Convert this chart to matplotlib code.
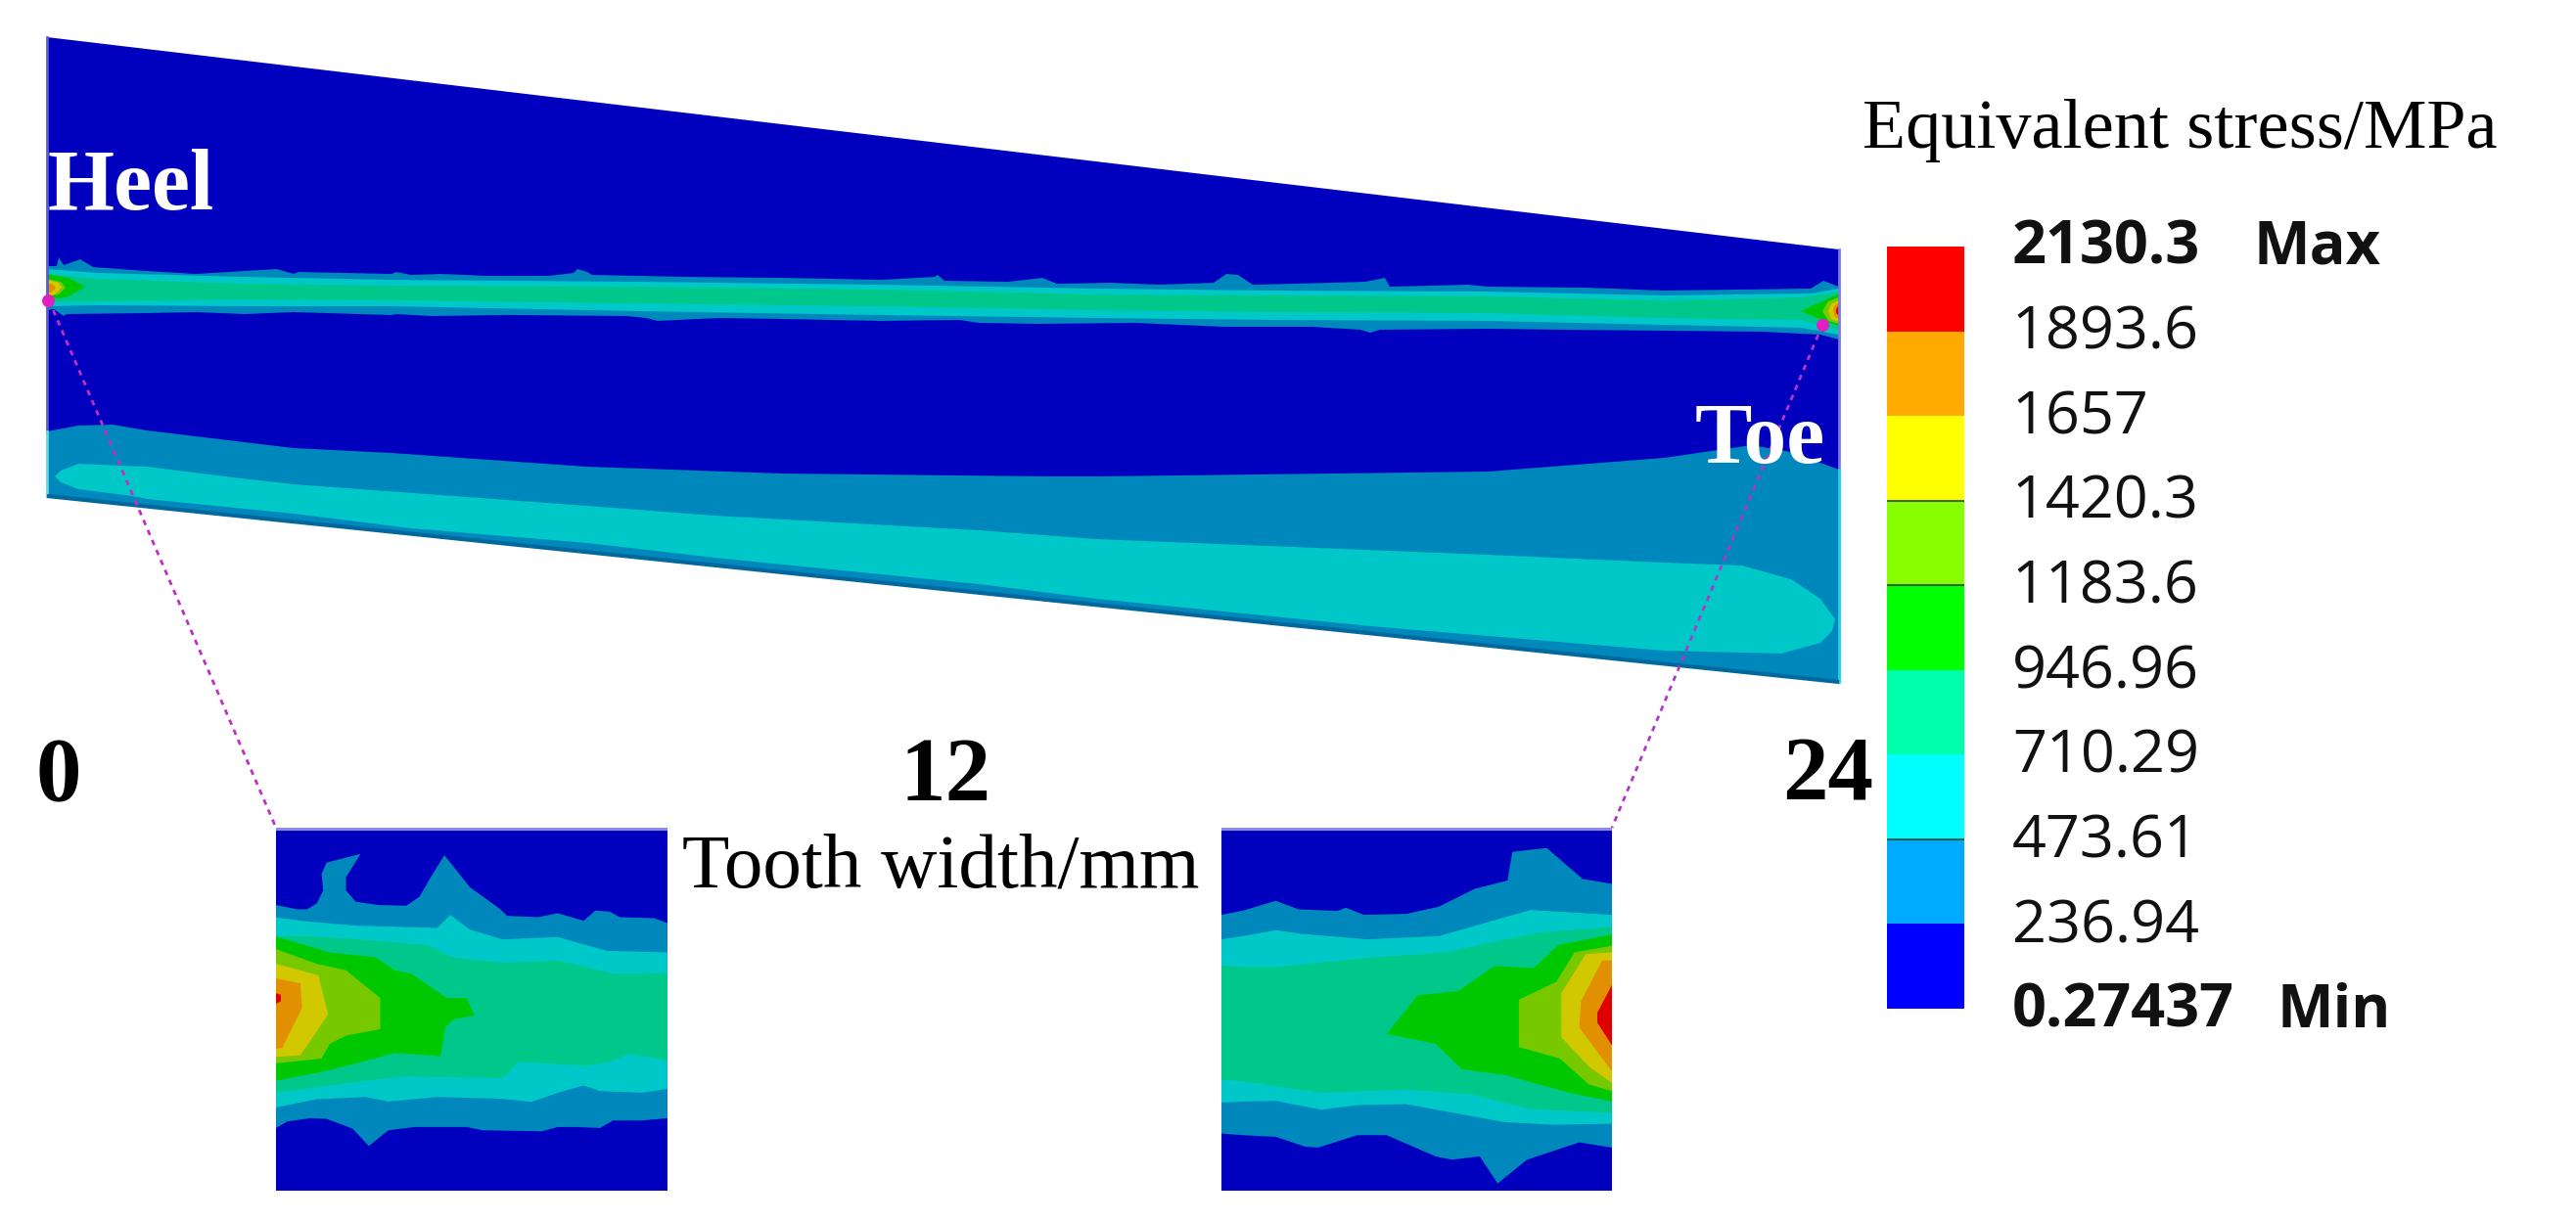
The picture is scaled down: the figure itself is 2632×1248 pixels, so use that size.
import numpy as np
import matplotlib
matplotlib.use("Agg")
import matplotlib.pyplot as plt
from matplotlib.patches import Polygon

W, H = 2632, 1248

# colour legend
legend_labels = ["2130.3", "1893.6", "1657", "1420.3", "1183.6", "946.96", "710.29", "473.61", "236.94", "0.27437"]
legend_colors = ["#ff0000", "#ffaa00", "#ffff00", "#88ff00", "#00ff00", "#00ffaa", "#00ffff", "#00aaff", "#0000ff"]
# same bands as they look on the lit model, low to high
base_color = "#0000be"
band_colors = ["#0087bc", "#00c8c8", "#00c88a", "#00c800", "#78c800", "#d2c800", "#e09000", "#e00000"]

tooth_ticks = ["0", "12", "24"]
tooth_tick_x = [60, 966, 1868]

# tooth outline, picture pixels
tooth_outline = [(48, 38), (1879, 255), (1879, 697), (48, 507)]

# strip along the tooth, (x, y) in picture pixels
strip_1 = [(48, 272), (58, 272), (60, 263), (65, 271), (82, 265), (95, 273), (150, 277), (200, 280), (283, 275),
           (300, 280), (305, 278), (400, 280), (405, 278), (420, 281), (450, 280), (500, 282), (560, 282), (586, 279),
           (590, 275), (600, 278), (605, 281), (700, 283), (800, 284), (900, 286), (955, 283), (958, 281), (965, 287),
           (1030, 288), (1065, 284), (1080, 290), (1135, 289), (1185, 291), (1240, 289), (1253, 280), (1265, 281),
           (1280, 291), (1360, 289), (1395, 288), (1415, 284), (1420, 293), (1500, 291), (1520, 293), (1620, 294),
           (1700, 297), (1850, 295), (1863, 287), (1879, 293),
           (1879, 347), (1860, 342), (1800, 339), (1700, 338), (1600, 337), (1520, 336), (1410, 337), (1400, 340),
           (1390, 337), (1340, 334), (1250, 334), (1160, 330), (1060, 331), (1000, 330), (980, 327), (900, 328),
           (800, 326), (735, 325), (672, 328), (660, 325), (640, 323), (520, 322), (440, 323), (405, 321), (400, 322),
           (300, 319), (250, 321), (200, 319), (150, 320), (68, 321), (65, 323), (55, 316), (48, 317)]
strip_2 = [(48, 275), (100, 279), (250, 283), (400, 286), (650, 288), (900, 291), (1120, 295), (1300, 297), (1520, 298),
           (1700, 302), (1850, 300), (1879, 295),
           (1879, 342), (1840, 335), (1700, 332), (1520, 328), (1300, 327), (1120, 325), (900, 322), (650, 318),
           (400, 313), (250, 313), (100, 312), (48, 313)]
strip_3 = [(48, 280), (100, 285), (250, 290), (400, 292), (650, 293), (900, 296), (1120, 301), (1300, 302), (1520, 303),
           (1700, 307), (1840, 304), (1879, 298),
           (1879, 338), (1840, 327), (1700, 325), (1520, 320), (1300, 319), (1120, 317), (900, 313), (650, 310),
           (400, 307), (250, 306), (100, 308), (48, 309)]
strip_heel = [
    [(48, 280), (70, 284), (87, 293), (70, 303), (48, 307)],
    [(48, 285), (62, 288), (67, 294), (60, 301), (48, 303)],
    [(48, 286), (60, 289), (63, 294), (56, 301), (48, 302)],
    [(48, 289), (54, 291), (57, 294), (53, 299), (48, 300)],
]
strip_toe = [
    [(1879, 300), (1862, 308), (1840, 318), (1862, 327), (1879, 333)],
    [(1879, 304), (1868, 308), (1862, 318), (1868, 328), (1879, 331)],
    [(1879, 307), (1871, 311), (1868, 318), (1871, 326), (1879, 329)],
    [(1879, 309), (1874, 313), (1873, 318), (1875, 324), (1879, 326)],
    [(1879, 312), (1876, 316), (1876, 320), (1879, 323)],
]

# root fillet region
root_band_1 = [(48, 441), (80, 435), (115, 434), (150, 440), (300, 458), (400, 463), (600, 477), (800, 484), (1075, 487),
               (1120, 487), (1520, 482), (1700, 468), (1790, 455), (1830, 462), (1879, 480),
               (1879, 697), (48, 507)]
root_band_2 = [(56, 487), (62, 481), (80, 474), (150, 477), (247, 489), (300, 495), (600, 517), (730, 527), (1000, 542),
               (1120, 551), (1520, 567), (1700, 575), (1780, 578), (1830, 592), (1860, 612), (1875, 633), (1872, 645),
               (1860, 657), (1820, 668), (1700, 665), (1400, 640), (1120, 612), (1000, 597), (730, 570), (600, 555),
               (420, 540), (300, 525), (150, 510), (135, 507), (80, 500), (62, 493)]

# left inset outlines, crop units (3 units = 1 picture pixel)
heel_1 = [(5, 195), (70, 208), (100, 208), (130, 190), (150, 150), (145, 100), (160, 65), (265, 38), (220, 110), (220, 150),
          (250, 185), (320, 195), (405, 197), (445, 170), (480, 110), (522, 42), (600, 140), (690, 205), (715, 228),
          (810, 232), (870, 220), (950, 243), (985, 212), (1030, 215), (1060, 232), (1165, 235), (1207, 250),
          (1207, 848), (1130, 855), (1040, 855), (1000, 878), (930, 875), (870, 875), (820, 888), (640, 885), (590, 875),
          (430, 875), (350, 885), (290, 933), (240, 880), (160, 850), (110, 848), (40, 858), (5, 878)]
heel_2 = [(5, 233), (100, 245), (250, 258), (500, 265), (540, 225), (600, 270), (700, 300), (870, 293), (1020, 335), (1207, 340),
          (1207, 758), (1130, 770), (1000, 765), (950, 748), (870, 770), (790, 798), (690, 788), (500, 783), (350, 797),
          (280, 783), (130, 790), (5, 815)]
heel_3 = [(5, 290), (100, 290), (300, 303), (470, 318), (545, 355), (700, 372), (870, 365), (1040, 405), (1207, 403),
          (1207, 672), (1090, 650), (1030, 675), (960, 688), (750, 675), (700, 725), (400, 720), (230, 740), (5, 770)]
heel_4 = [(5, 292), (170, 340), (310, 355), (370, 395), (420, 405), (500, 460), (530, 480), (590, 480), (615, 533), (550, 545),
          (525, 570), (510, 658), (370, 648), (250, 680), (150, 705), (5, 733)]
heel_5 = [(5, 330), (130, 375), (220, 395), (325, 480), (325, 575), (220, 595), (170, 620), (145, 665), (5, 680)]
heel_6 = [(5, 375), (135, 410), (165, 530), (80, 655), (5, 660)]
heel_7 = [(5, 420), (80, 435), (85, 510), (40, 600), (25, 633), (5, 635)]
heel_8 = [(5, 465), (20, 470), (20, 490), (5, 497)]

# right inset outlines
toe_1 = [(-66, 225), (0, 212), (100, 182), (170, 208), (290, 213), (315, 203), (370, 225), (500, 222), (600, 200), (710, 145),
         (810, 120), (825, 32), (930, 20), (1040, 115), (1130, 130),
         (1130, 938), (1030, 922), (870, 975), (780, 1048), (725, 965), (640, 975), (590, 965), (440, 900), (350, 900),
         (230, 938), (190, 935), (100, 905), (0, 900), (-66, 895)]
toe_2 = [(-66, 300), (0, 290), (100, 272), (180, 283), (380, 300), (600, 290), (880, 210), (1130, 225),
         (1130, 865), (950, 868), (800, 860), (500, 805), (350, 808), (240, 822), (100, 795), (0, 797), (-66, 800)]
toe_3 = [(-66, 380), (0, 385), (100, 385), (400, 355), (620, 340), (900, 280), (1130, 262),
         (1130, 832), (880, 820), (700, 775), (500, 760), (240, 770), (0, 735), (-66, 730)]
toe_4 = [(440, 590), (535, 472), (660, 458), (770, 382), (890, 388), (965, 318), (1130, 285),
         (1130, 797), (1000, 770), (800, 715), (670, 698), (590, 620)]
toe_5 = [(845, 485), (960, 430), (1015, 340), (1130, 320), (1130, 765), (1060, 745), (970, 665), (845, 630)]
toe_6 = [(975, 465), (1050, 345), (1130, 340), (1130, 740), (1060, 690), (975, 600)]
toe_7 = [(1035, 490), (1100, 365), (1130, 365), (1130, 705), (1030, 570)]
toe_8 = [(1085, 525), (1130, 440), (1130, 625), (1085, 555)]

fig = plt.figure(figsize=(W / 100, H / 100), dpi=100, facecolor="white")
ax = fig.add_axes([0, 0, 1, 1])
ax.set_xlim(0, W)
ax.set_ylim(H, 0)
ax.axis("off")


def draw_bands(axis, outlines, colors, clip=None):
    for outline, color in zip(outlines, colors):
        patch = Polygon(outline, closed=True, facecolor=color, edgecolor="none")
        axis.add_patch(patch)
        if clip is not None:
            patch.set_clip_path(clip)


tooth = Polygon(tooth_outline, closed=True, facecolor=base_color, edgecolor="none")
ax.add_patch(tooth)
draw_bands(ax, [root_band_1, root_band_2], band_colors[:2], tooth)
draw_bands(ax, [strip_1, strip_2, strip_3], band_colors[:3], tooth)
draw_bands(ax, strip_heel, band_colors[3:7], tooth)
draw_bands(ax, strip_toe, band_colors[3:], tooth)

# thin edges of the model
ax.plot([48, 48], [38, 441], color="#5a5ad8", lw=2)
ax.plot([48, 48], [441, 507], color="#60d8e8", lw=2)
ax.plot([1879, 1879], [255, 480], color="#7a7ae0", lw=2)
ax.plot([1879, 1879], [480, 697], color="#20d0e8", lw=2)
ax.plot([48, 1879], [507, 697], color="#00689c", lw=3, solid_capstyle="butt")

# leader lines to the insets
ax.plot([50, 282], [307, 846], color="#c030c0", lw=2, ls=(0, (2, 2)))
ax.plot([1862, 1647], [332, 846], color="#b038c8", lw=2, ls=(0, (2, 2)))
ax.scatter([49, 1862], [307, 332], s=70, color="#e020c0", zorder=4)

# insets
for left, right, xlim, outlines in [
    (282, 682, (5, 1207), [heel_1, heel_2, heel_3, heel_4, heel_5, heel_6, heel_7, heel_8]),
    (1248, 1647, (-66, 1130), [toe_1, toe_2, toe_3, toe_4, toe_5, toe_6, toe_7, toe_8]),
]:
    inset = fig.add_axes([left / W, 1 - 1217 / H, (right - left) / W, (1217 - 846) / H])
    inset.set_xlim(*xlim)
    inset.set_ylim(1070, -42)
    inset.set_facecolor(base_color)
    inset.set_xticks([])
    inset.set_yticks([])
    for spine in inset.spines.values():
        spine.set_visible(False)
    draw_bands(inset, outlines, band_colors)
    inset.axhline(-38, color="#8c8ce0", lw=3)

# colour legend
cbar_top, cbar_bottom = 252, 1031
edges = np.linspace(cbar_top, cbar_bottom, len(legend_colors) + 1)
ax.bar([1967.5] * len(legend_colors), np.diff(edges), bottom=edges[:-1], width=79, color=legend_colors)
ax.hlines(edges[[3, 4, 7]], 1928, 2007, color="#204020", lw=1.5, alpha=0.8)

baselines = np.linspace(270, 1050, len(legend_labels))
for i, (label, y) in enumerate(zip(legend_labels, baselines)):
    weight = "bold" if i in (0, len(legend_labels) - 1) else "normal"
    ax.text(2056, y, label, family="Open Sans", fontsize=44, fontweight=weight, color="#111111", va="baseline", ha="left")
ax.text(2303, baselines[0], "Max", family="Open Sans", fontsize=44, fontweight="bold", color="#111111", va="baseline")
ax.text(2326, baselines[-1], "Min", family="Open Sans", fontsize=44, fontweight="bold", color="#111111", va="baseline")
ax.text(1903, 151, "Equivalent stress/MPa", family="Liberation Serif", fontsize=52, color="black", va="baseline", ha="left")

# labels on the tooth and under it
ax.text(48, 214, "Heel", family="Liberation Serif", fontsize=63, fontweight="bold", color="white", va="baseline", ha="left")
ax.text(1732, 473, "Toe", family="Liberation Serif", fontsize=63, fontweight="bold", color="white", va="baseline", ha="left")
for label, x in zip(tooth_ticks, tooth_tick_x):
    ax.text(x, 818, label, family="Liberation Serif", fontsize=67, fontweight="bold", color="black", va="baseline", ha="center")
ax.text(697, 906, "Tooth width/mm", family="Liberation Serif", fontsize=57, color="black", va="baseline", ha="left")

fig.savefig("out.png", dpi=100, facecolor="white")
